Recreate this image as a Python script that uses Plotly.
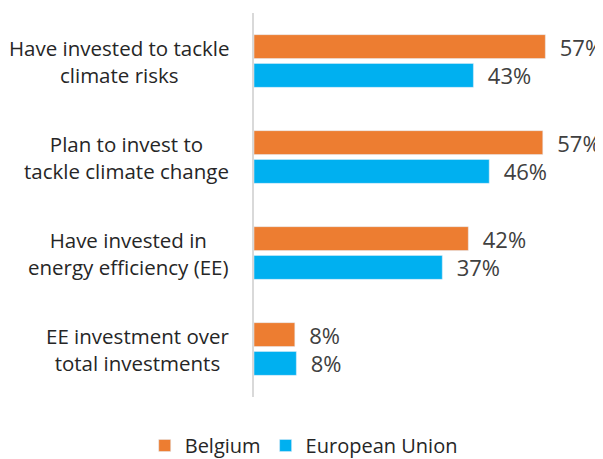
import plotly.graph_objects as go

categories = [
    "Have invested to tackle<br>climate risks",
    "Plan to invest to<br>tackle climate change",
    "Have invested in<br>energy efficiency (EE)",
    "EE investment over<br>total investments",
]
belgium = [57.1, 56.6, 42.0, 8.0]
eu = [43.0, 46.1, 36.9, 8.3]

FONT = "Open Sans"
PAD = "\u00a0" * 2

fig = go.Figure()
fig.add_trace(go.Bar(
    y=categories, x=belgium, orientation="h", name="Belgium",
    marker=dict(color="#ED7D31"),
    text=[PAD + f"{v:.0f}%" for v in belgium], textposition="outside",
    textfont=dict(family=FONT, size=22, color="#404040"),
    constraintext="none", cliponaxis=False,
))
fig.add_trace(go.Bar(
    y=categories, x=eu, orientation="h", name="European Union",
    marker=dict(color="#00B0F0"),
    text=[PAD + f"{v:.0f}%" for v in eu], textposition="outside",
    textfont=dict(family=FONT, size=22, color="#404040"),
    constraintext="none", cliponaxis=False,
))

# centred multi-line category labels
for c in categories:
    fig.add_annotation(
        x=0, xref="paper", y=c, yref="y", text=c, showarrow=False,
        xanchor="right", xshift=-23, align="center",
        font=dict(family=FONT, size=20.5, color="#262626"),
    )

# page body has an 8px margin, so the figure is sized to the visible area
fig.update_layout(
    width=595, height=451,
    margin=dict(l=246, r=0, t=5, b=62, autoexpand=False),
    paper_bgcolor="white", plot_bgcolor="white",
    barmode="group", bargap=0.40, bargroupgap=0.17,
    showlegend=True,
    legend=dict(
        orientation="h", xref="container", x=0.497, xanchor="center",
        yref="container", y=0.03, yanchor="middle",
        font=dict(family=FONT, size=20, color="#262626"),
        traceorder="normal",
    ),
    font=dict(family=FONT),
)
fig.update_xaxes(range=[0, 68.4], visible=False)
fig.update_yaxes(
    autorange="reversed", showticklabels=False, showgrid=False,
    showline=True, linecolor="#D9D9D9", linewidth=2, zeroline=False,
)

fig.write_html("out.html")
